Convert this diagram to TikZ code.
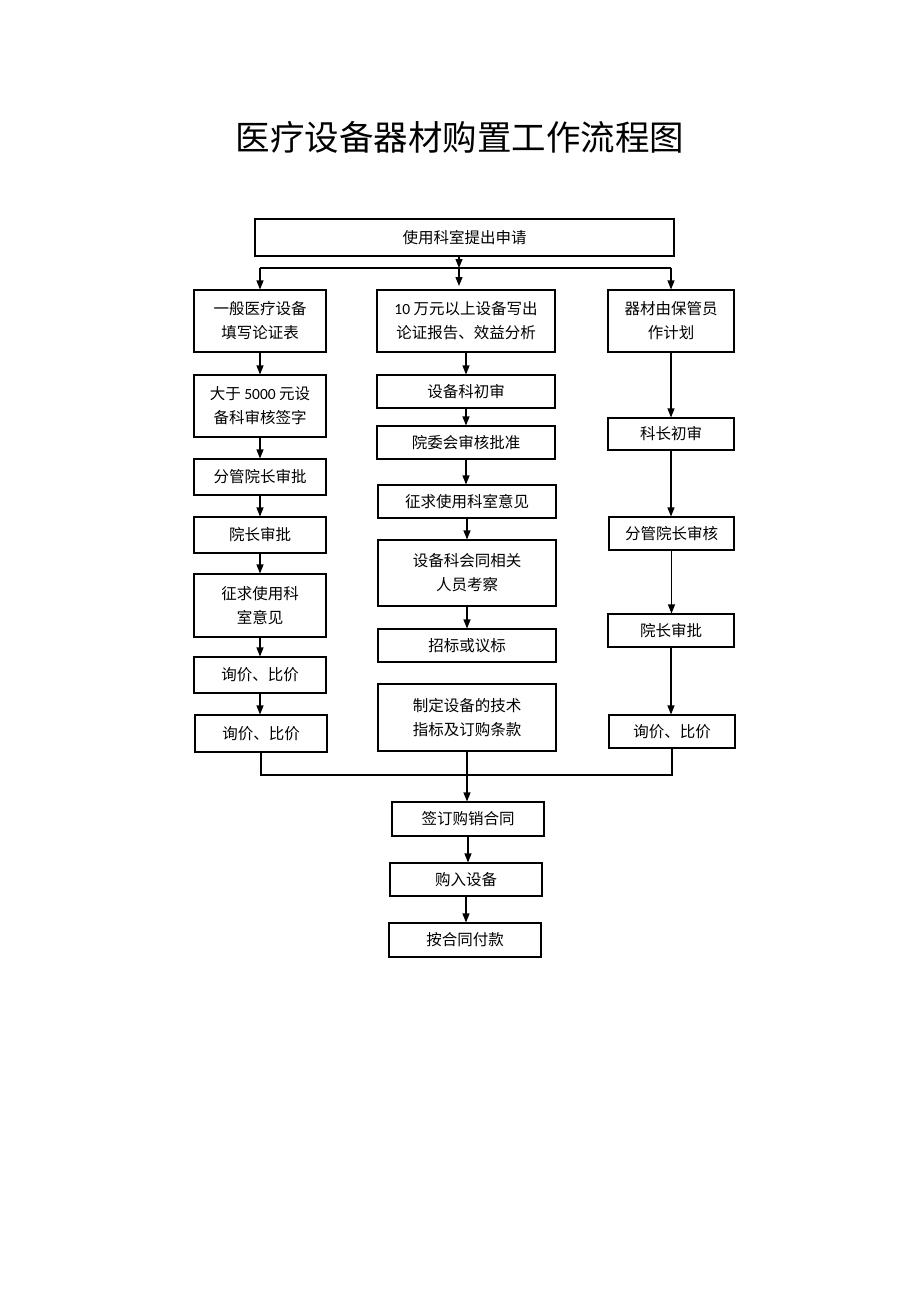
\documentclass[tikz,border=0pt]{standalone}
\usepackage{fontspec}
\setmainfont{Noto Sans CJK SC}
\newfontfamily\latinfont{Carlito}
\usetikzlibrary{arrows.meta}

\tikzset{
	box/.style={draw, line width=1.1pt, align=center, inner sep=0pt, font=\fontsize{15.5}{24}\selectfont},
	arr/.style={line width=1.1pt, -{Triangle[length=9pt,width=7pt]}},
	link/.style={line width=1.1pt}
}

\begin{document}
\begin{tikzpicture}[line join=miter, x=1pt, y=-1pt]
					\useasboundingbox (0,0) rectangle (920,1302);
					\fill[white] (0,0) rectangle (920,1302);
					\node[font=\fontsize{34.5}{40}\selectfont] (title) at (460,137) {医疗设备器材购置工作流程图};
					\node[box, minimum width=419pt, minimum height=37pt] (top) at (464.5,237.5) {使用科室提出申请};
					% left column
					\node[box, minimum width=132pt, minimum height=62pt] (l1) at (260,321) {一般医疗设备\\填写论证表};
					\node[box, minimum width=132pt, minimum height=62pt] (l2) at (260,406) {大于 {\latinfont 5000} 元设\\备科审核签字};
					\node[box, minimum width=132pt, minimum height=36pt] (l3) at (260,477) {分管院长审批};
					\node[box, minimum width=132pt, minimum height=36pt] (l4) at (260,535) {院长审批};
					\node[box, minimum width=132pt, minimum height=63pt] (l5) at (260,605.5) {征求使用科\\室意见};
					\node[box, minimum width=132pt, minimum height=36pt] (l6) at (260,675) {询价、比价};
					\node[box, minimum width=132pt, minimum height=37pt] (l7) at (261,733.5) {询价、比价};
					% middle column
					\node[box, minimum width=178pt, minimum height=62pt] (m1) at (466,321) {{\latinfont 10} 万元以上设备写出\\论证报告、效益分析};
					\node[box, minimum width=178pt, minimum height=33pt] (m2) at (466,391.5) {设备科初审};
					\node[box, minimum width=178pt, minimum height=33pt] (m3) at (466,442.5) {院委会审核批准};
					\node[box, minimum width=178pt, minimum height=33pt] (m4) at (467,501.5) {征求使用科室意见};
					\node[box, minimum width=178pt, minimum height=66pt] (m5) at (467,573) {设备科会同相关\\人员考察};
					\node[box, minimum width=178pt, minimum height=33pt] (m6) at (467,645.5) {招标或议标};
					\node[box, minimum width=178pt, minimum height=67pt] (m7) at (467,717.5) {制定设备的技术\\指标及订购条款};
					% right column
					\node[box, minimum width=126pt, minimum height=62pt] (r1) at (671,321) {器材由保管员\\作计划};
					\node[box, minimum width=126pt, minimum height=32pt] (r2) at (671,434) {科长初审};
					\node[box, minimum width=125pt, minimum height=33pt] (r3) at (671.5,533.5) {分管院长审核};
					\node[box, minimum width=126pt, minimum height=33pt] (r4) at (671,630.5) {院长审批};
					\node[box, minimum width=126pt, minimum height=33pt] (r5) at (672,731.5) {询价、比价};
					% bottom
					\node[box, minimum width=152pt, minimum height=34pt] (b1) at (468,819) {签订购销合同};
					\node[box, minimum width=152pt, minimum height=33pt] (b2) at (466,879.5) {购入设备};
					\node[box, minimum width=152pt, minimum height=34pt] (b3) at (465,940) {按合同付款};
					% branching
					\coordinate (bar1) at (459,268);
					\coordinate (midtip) at (459,286);
					\draw[arr] (top.south -| bar1) -- (bar1);
					\draw[link] (l1.north |- bar1) -- (r1.north |- bar1);
					\draw[arr] (l1.north |- bar1) -- (l1.north);
					\draw[arr] (r1.north |- bar1) -- (r1.north);
					\draw[arr] (bar1) -- (midtip);
					\foreach \a/\b in {l1/l2,l2/l3,l3/l4,l4/l5,l5/l6,l6/l7,m1/m2,m2/m3,m3/m4,m4/m5,m5/m6,r1/r2,r2/r3,r3/r4,r4/r5,b1/b2,b2/b3}
					\draw[arr] (\a.south) -- (\a.south |- \b.north);
					% joining
					\coordinate (bar2) at (467,775);
					\draw[link] (l7.south) |- (bar2) -| (r5.south);
					\draw[arr] (m7.south) -- (m7.south |- b1.north);
				\end{tikzpicture}
\end{document}
